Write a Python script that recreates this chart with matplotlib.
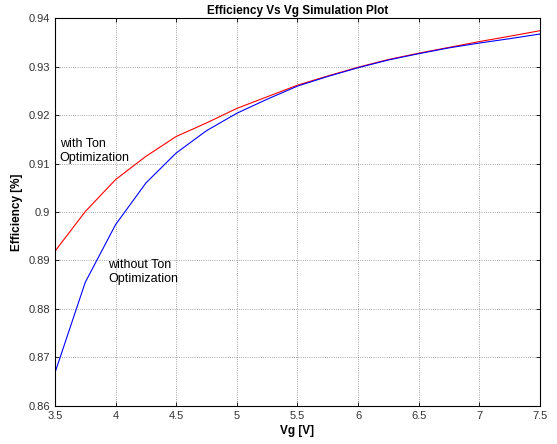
import numpy as np
import matplotlib
matplotlib.use("Agg")
import matplotlib.pyplot as plt
from matplotlib.ticker import FuncFormatter

vg = [3.5, 3.75, 4.0, 4.25, 4.5, 4.75, 5.0, 5.25, 5.5, 5.75, 6.0, 6.25, 6.5, 6.75, 7.0, 7.25, 7.5]
eff_with_ton = [0.8919, 0.9001, 0.9067, 0.9115, 0.9156, 0.9184, 0.9214, 0.9238, 0.9262, 0.9281,
                0.9299, 0.9315, 0.9328, 0.9340, 0.9352, 0.9363, 0.93745]
eff_without_ton = [0.8668, 0.8855, 0.8974, 0.9060, 0.9122, 0.9168, 0.9204, 0.9233, 0.9260, 0.9280,
                   0.9298, 0.9314, 0.9327, 0.9339, 0.9349, 0.9358, 0.93676]

plt.rcParams['font.family'] = ['Liberation Sans', 'DejaVu Sans']
plt.rcParams['font.size'] = 8

fig = plt.figure(figsize=(5.57, 4.44), dpi=100)
ax = fig.add_axes([0.0987, 0.0863, 0.8708, 0.8724])

ax.plot(vg, eff_with_ton, color='red', linewidth=0.8)
ax.plot(vg, eff_without_ton, color='blue', linewidth=0.8)

ax.set_xlim(3.5, 7.5)
ax.set_ylim(0.86, 0.94)
ax.set_xticks(np.arange(3.5, 7.51, 0.5))
ax.set_yticks(np.arange(0.86, 0.9401, 0.01))
fmt = FuncFormatter(lambda v, p: f"{v:.4g}")
ax.xaxis.set_major_formatter(fmt)
ax.yaxis.set_major_formatter(fmt)
ax.tick_params(direction='in', top=True, right=True, length=3, width=0.6, labelsize=8,
               colors='black', labelcolor='#333333')
ax.grid(True, linestyle=':', color='#555555', linewidth=0.6, alpha=0.7)
for s in ax.spines.values():
    s.set_linewidth(0.8)

ax.set_title("Efficiency Vs Vg Simulation Plot", fontsize=8.5, fontweight='bold', pad=3)
ax.set_xlabel("Vg [V]", fontsize=8.5, fontweight='bold', labelpad=3)
ax.set_ylabel("Efficiency [%]", fontsize=8.5, fontweight='bold', labelpad=4)

ax.text(3.54, 0.9153, "with Ton\nOptimization", fontsize=9, va='top', ha='left', linespacing=1.25)
ax.text(3.94, 0.8903, "without Ton\nOptimization", fontsize=9, va='top', ha='left', linespacing=1.25)

fig.savefig("out.png", dpi=100)
